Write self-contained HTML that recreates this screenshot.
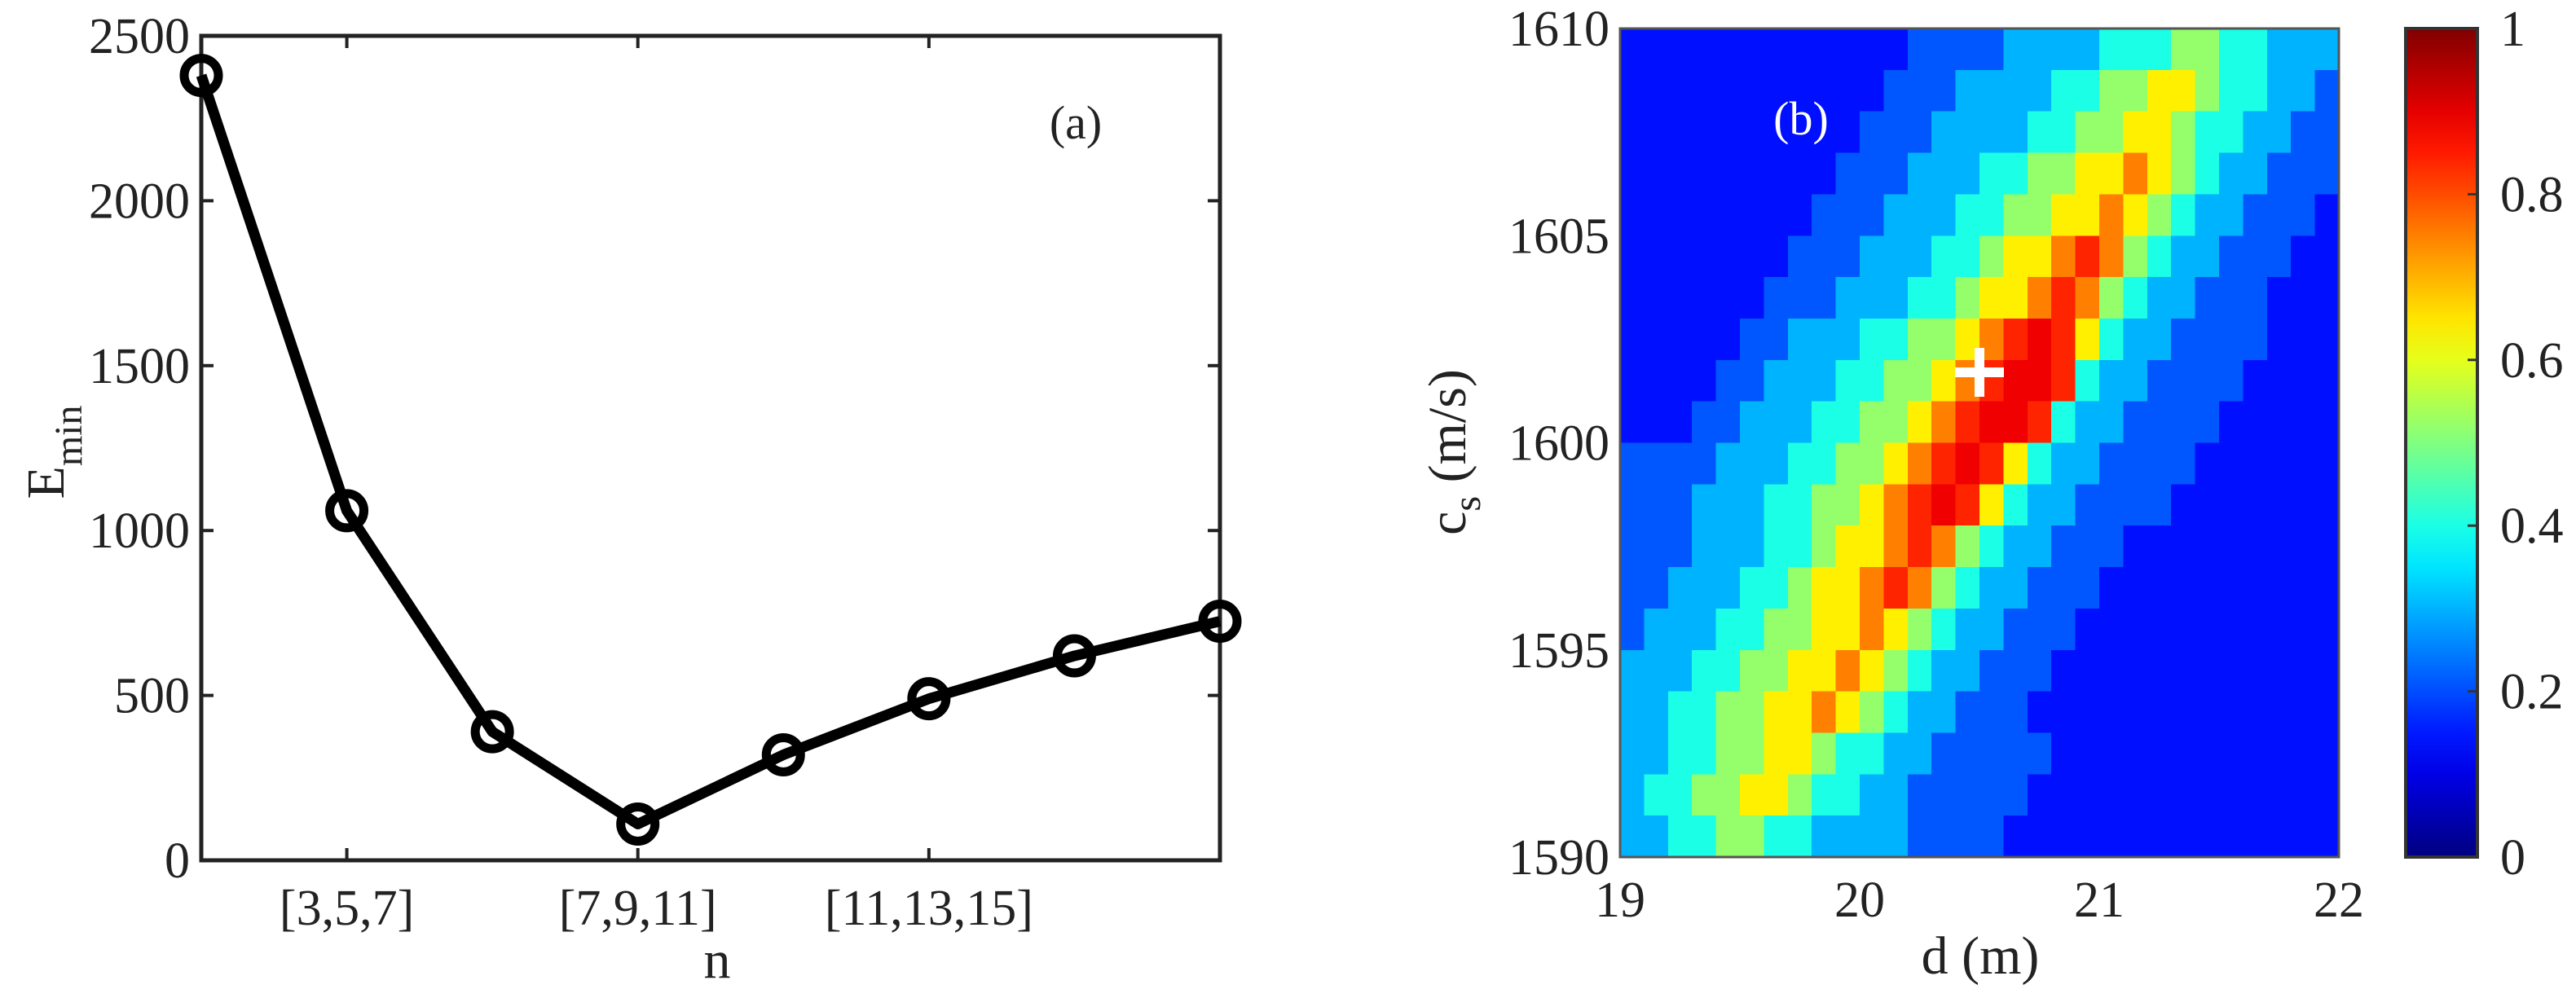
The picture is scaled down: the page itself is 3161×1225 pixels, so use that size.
<!DOCTYPE html>
<html><head><meta charset="utf-8"><style>
html,body{margin:0;padding:0;background:#fff}
svg{display:block}
text{font-family:"Liberation Serif",serif;fill:#222}
</style></head><body>
<svg id="fig" width="3161" height="1225" viewBox="0 0 3161 1225" xmlns="http://www.w3.org/2000/svg">
<rect width="3161" height="1225" fill="#fff"/>
<g id="pa"></g>
<g id="pb"></g>
</svg>
<script>
// Panel (a) data
const aIndex = [0,1,2,3,4,5,6,7];
const aValues = [2380,1060,390,110,320,490,620,725];
const aYTicks = [0,500,1000,1500,2000,2500];
const aXTickIdx = [1,3,5];
const aXTickLabels = ["[3,5,7]","[7,9,11]","[11,13,15]"];
// Panel (b) data
const bDStart = 19, bDStep = 0.1;
const bCStart = 1610, bCStep = 1;
const bLevels = [0.05,0.14,0.21,0.3,0.4,0.52,0.64,0.75,0.84,0.89];
const bRows = [
"111111111111222233334445544333",
"111111111112223333445566544332",
"111111111122233334455665443322",
"111111111222333445566765433222",
"111111112223334455667654332221",
"111111122233344566787543322211",
"111111222333445667875433222111",
"111112233344556789864332222111",
"111122333445567899843322221111",
"111223334455678998433222211111",
"222233344556789864332222111111",
"222333445567898643322221111111",
"222333445667875433222111111111",
"223334456678754332221111111111",
"233344556676543322211111111111",
"333445566765433222111111111111",
"334455667654332221111111111111",
"334455665443322222111111111111",
"344556654433222221111111111111",
"334455443333222211111111111111"];
const bXTicks = [19,20,21,22];
const bYTicks = [1590,1595,1600,1605,1610];
const bBest = [20.5, 1601.7];
const cbTicks = [0,0.2,0.4,0.6,0.8,1];

const NS="http://www.w3.org/2000/svg";
function mk(tag, attrs, parent, txt){const e=document.createElementNS(NS,tag);for(const k in attrs)e.setAttribute(k,attrs[k]);if(txt!==undefined)e.textContent=txt;parent.appendChild(e);return e;}

// ---- Panel a ----
const pa=document.getElementById('pa');
const aL=247,aR=1497,aT=44,aB=1056;
const ax=i=>aL+(aR-aL)*i/7;
const ay=v=>aB-(aB-aT)*v/2500;
aYTicks.forEach(v=>{
  const t=mk('text',{x:233,y:ay(v)+21,'font-size':62,'text-anchor':'end'},pa,String(v));
  
  
  if(v>0&&v<2500){
    mk('line',{x1:aL,y1:ay(v),x2:aL+15,y2:ay(v),stroke:'#222','stroke-width':4},pa);
    mk('line',{x1:aR,y1:ay(v),x2:aR-15,y2:ay(v),stroke:'#222','stroke-width':4},pa);
  }
});
aXTickIdx.forEach((ix,k)=>{
  mk('line',{x1:ax(ix),y1:aB,x2:ax(ix),y2:aB-15,stroke:'#222','stroke-width':4},pa);
  mk('line',{x1:ax(ix),y1:aT,x2:ax(ix),y2:aT+15,stroke:'#222','stroke-width':4},pa);
  const t=mk('text',{x:ax(ix),y:1135,'font-size':62,'text-anchor':'middle'},pa,aXTickLabels[k]);
  
  
});
const frameA=mk('rect',{x:aL,y:aT,width:aR-aL,height:aB-aT,fill:'none',stroke:'#222','stroke-width':5},pa);


const line=mk('polyline',{points:aIndex.map(i=>ax(i)+','+ay(aValues[i])).join(' '),fill:'none',stroke:'#000','stroke-width':13,'stroke-linejoin':'round'},pa);


aIndex.forEach(i=>{
  const c=mk('circle',{cx:ax(i),cy:ay(aValues[i]),r:21,fill:'none',stroke:'#000','stroke-width':11},pa);
  
  
});
let t=mk('text',{x:1320,y:170,'font-size':58,'text-anchor':'middle'},pa,'(a)');

t=mk('text',{x:880,y:1200,'font-size':66,'text-anchor':'middle'},pa,'n');

t=mk('text',{transform:'translate(78,555) rotate(-90)','font-size':66,'text-anchor':'middle'},pa);

mk('tspan',{},t,'E');mk('tspan',{'font-size':48,dy:22},t,'min');

// ---- Panel b ----
function jet(v){v=Math.max(0,Math.min(1,v));
  const r=Math.max(0,Math.min(1,Math.min(4*v-1.5,-4*v+4.5)));
  const g=Math.max(0,Math.min(1,Math.min(4*v-0.5,-4*v+3.5)));
  const b=Math.max(0,Math.min(1,Math.min(4*v+0.5,-4*v+2.5)));
  return `rgb(${Math.round(r*255)},${Math.round(g*255)},${Math.round(b*255)})`;}
const pb=document.getElementById('pb');
const bL=1988,bR=2870,bT=35,bB=1052;
const bx=d=>bL+(bR-bL)*(d-19)/3;
const by=c=>bB-(bB-bT)*(c-1590)/20;
const hm=mk('g',{'shape-rendering':'crispEdges'},pb);

bRows.forEach((row,r)=>{
  for(let c=0;c<row.length;c++){
    const v=bLevels[+row[c]];
    const x0=bx(bDStart+c*bDStep),x1=bx(bDStart+(c+1)*bDStep);
    const y0=by(bCStart-r*bCStep),y1=by(bCStart-(r+1)*bCStep);
    const cell=mk('rect',{x:x0,y:y0,width:x1-x0+0.6,height:y1-y0+0.6,fill:jet(v)},hm);
    
    
  }
});
mk('rect',{x:bL,y:bT,width:bR-bL,height:bB-bT,fill:'none',stroke:'#555','stroke-width':3},pb);
bXTicks.forEach(d=>{
  const tt=mk('text',{x:bx(d),y:1125,'font-size':62,'text-anchor':'middle'},pb,String(d));
  
});
bYTicks.forEach(c=>{
  const tt=mk('text',{x:1975,y:by(c)+21,'font-size':62,'text-anchor':'end'},pb,String(c));
  
});
const px=bx(bBest[0]),py=by(bBest[1]);
const cross=mk('path',{d:`M${px-30},${py}H${px+30}M${px},${py-30}V${py+30}`,stroke:'#fff','stroke-width':12},pb);

t=mk('text',{x:2210,y:165,'font-size':58,'text-anchor':'middle',style:'fill:#fff'},pb,'(b)');

t=mk('text',{x:2430,y:1195,'font-size':66,'text-anchor':'middle'},pb,'d (m)');

t=mk('text',{transform:'translate(1798,555) rotate(-90)','font-size':66,'text-anchor':'middle'},pb);

mk('tspan',{},t,'c');mk('tspan',{'font-size':48,dy:18},t,'s');mk('tspan',{dy:-18},t,' (m/s)');
// colorbar
const cL=2952,cR=3040;
const defs=mk('defs',{},pb);
const grad=mk('linearGradient',{id:'jetg',x1:0,y1:1,x2:0,y2:0},defs);
for(let i=0;i<=20;i++){mk('stop',{offset:i/20,'stop-color':jet(i/20)},grad);}
const cb=mk('rect',{x:cL,y:bT,width:cR-cL,height:bB-bT,fill:'url(#jetg)',stroke:'#333','stroke-width':4},pb);

cbTicks.forEach(v=>{
  const yy=bB-(bB-bT)*v;
  if(v>0&&v<1)mk('line',{x1:cR,y1:yy,x2:cR-12,y2:yy,stroke:'#333','stroke-width':3},pb);
  const tt=mk('text',{x:3068,y:yy+21,'font-size':62},pb,String(v));
  
});
</script>
</body></html>
